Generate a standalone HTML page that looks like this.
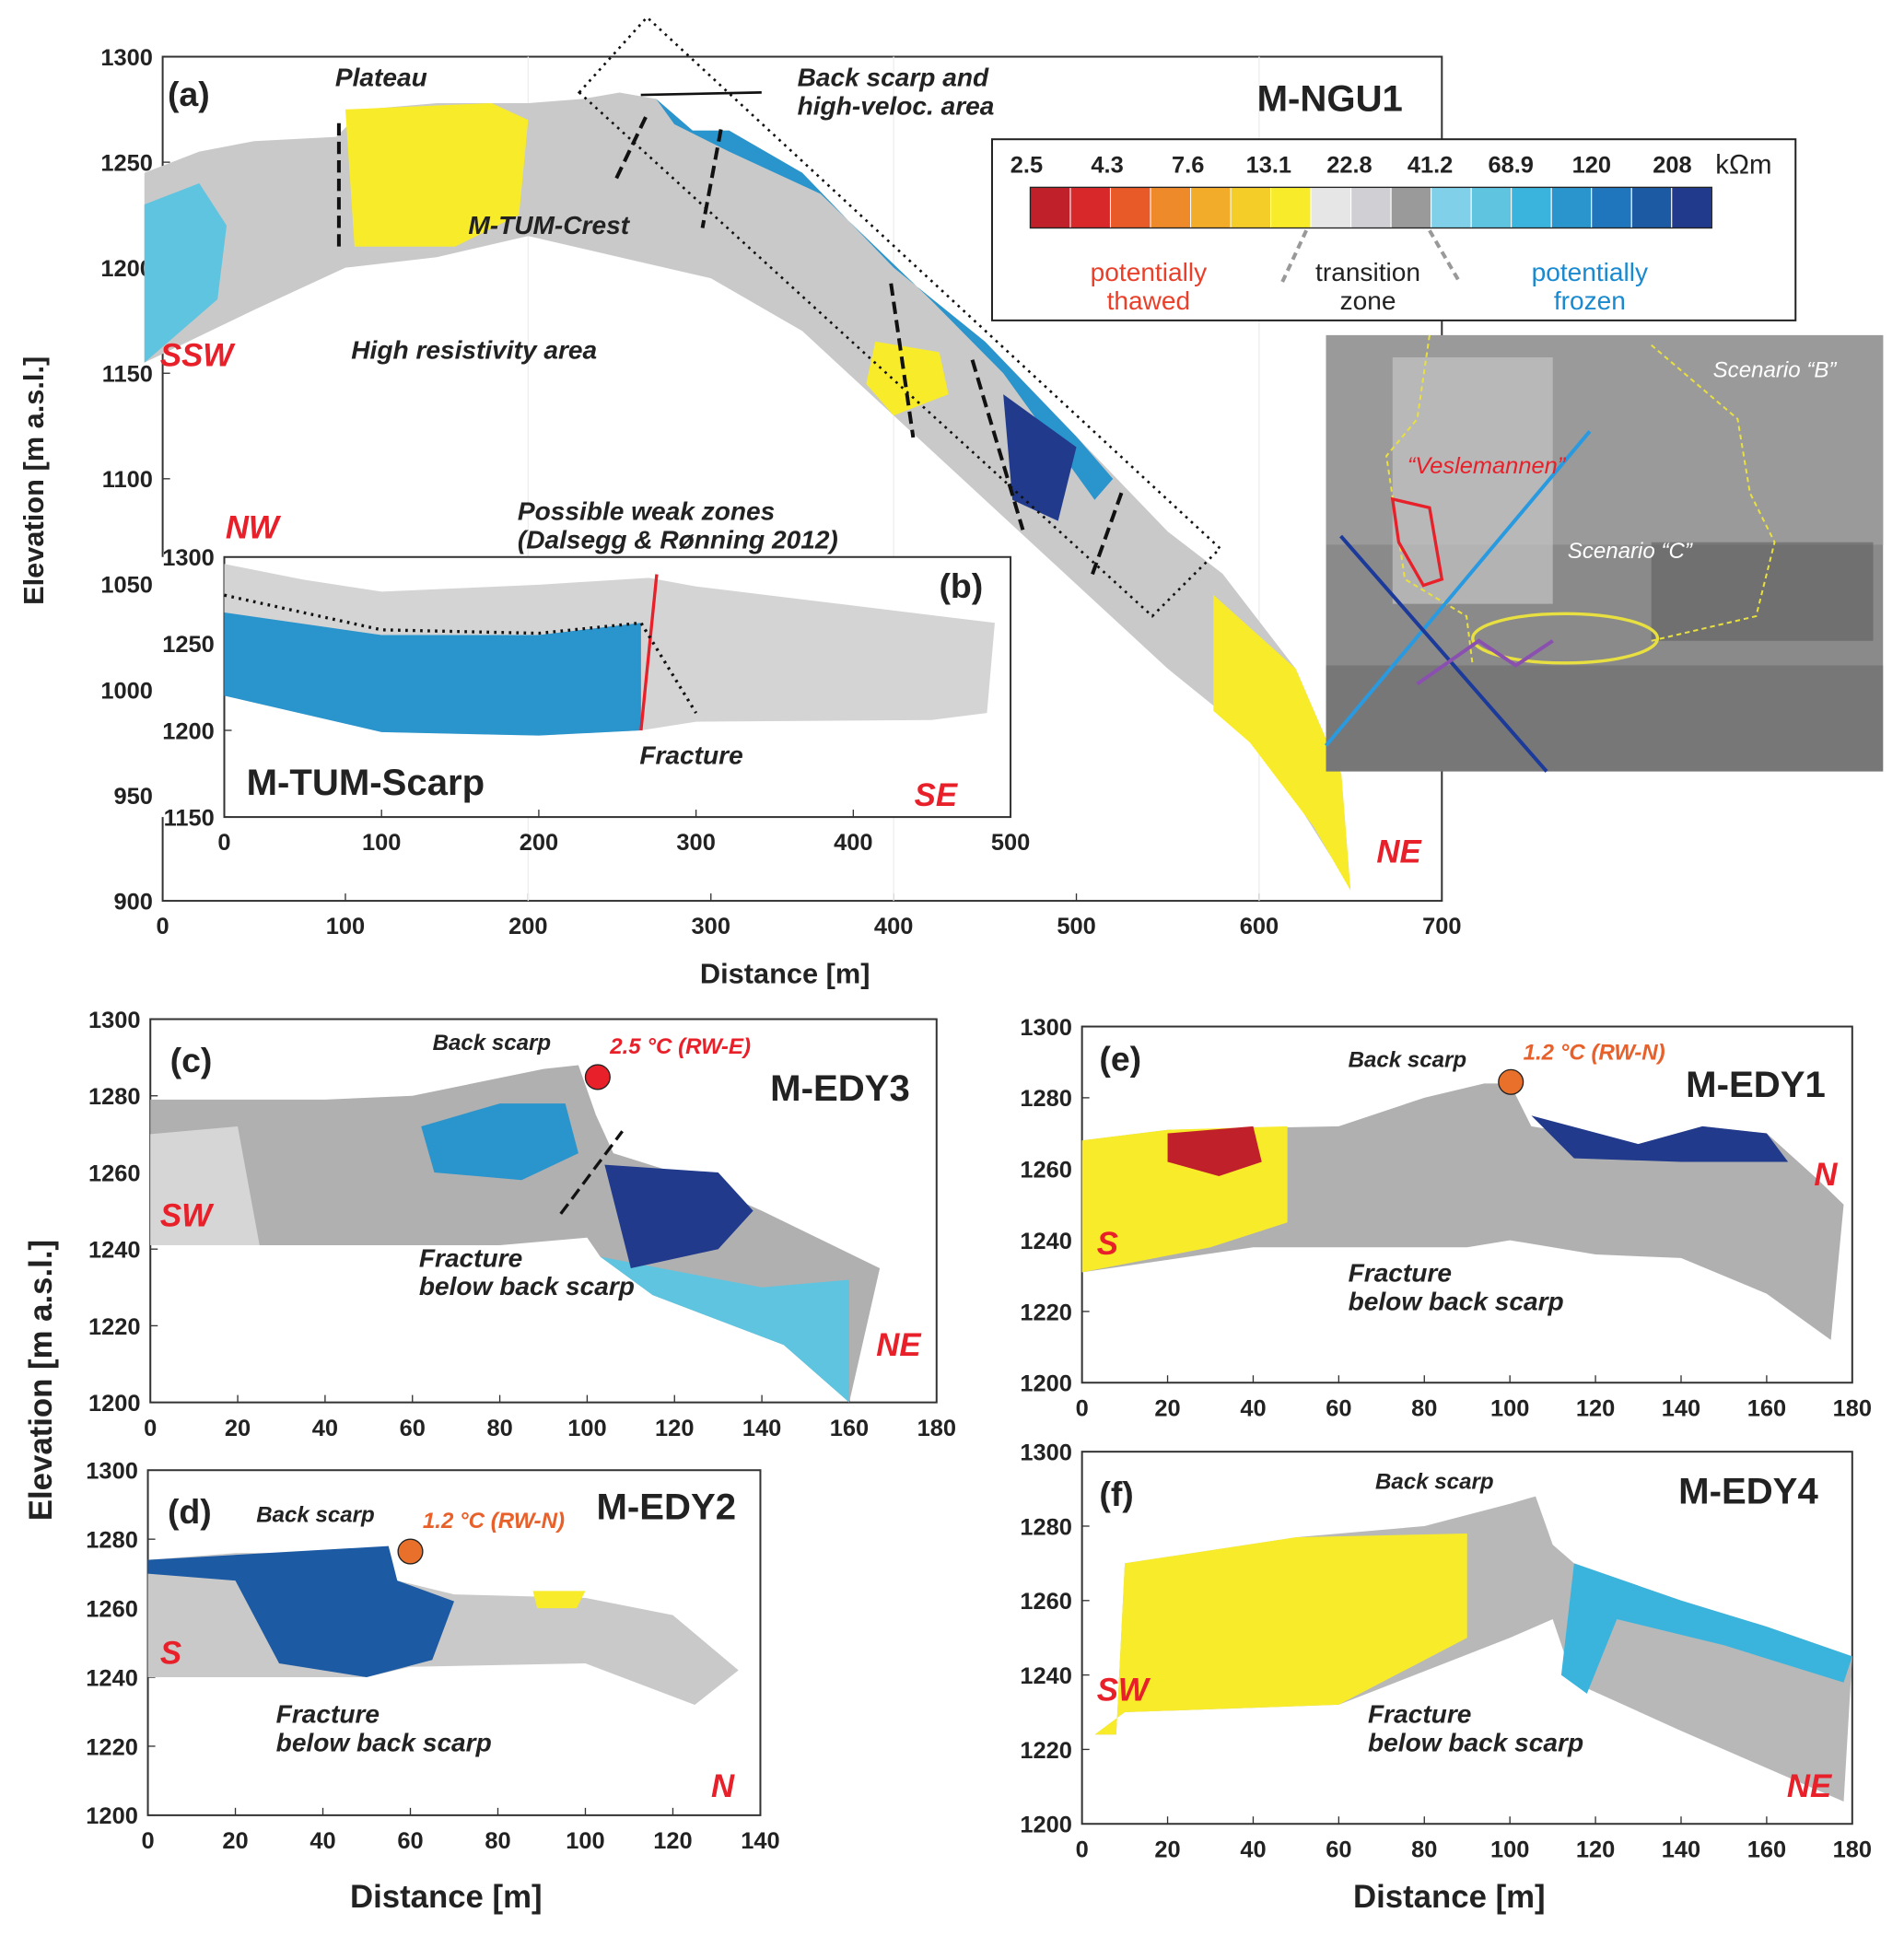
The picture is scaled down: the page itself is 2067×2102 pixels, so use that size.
<!DOCTYPE html>
<html><head><meta charset="utf-8">
<style>
html,body{margin:0;padding:0;background:#fff;}
svg{display:block;font-family:"Liberation Sans",Arial,sans-serif;}
.tk{font-size:19px;font-weight:bold;fill:#222;}
.lab{font-size:22px;font-weight:bold;fill:#222;}
.ann{font-size:21px;font-weight:bold;font-style:italic;fill:#222;}
.red{fill:#e8202a;font-weight:bold;font-style:italic;}
</style></head>
<body>
<svg id="fig" width="2067" height="2102" viewBox="0 0 1545 1571" preserveAspectRatio="none" xmlns="http://www.w3.org/2000/svg">
<g id="root"></g>
</svg>
<script>
const NS="http://www.w3.org/2000/svg";
const root=document.getElementById('root');
function el(tag,attrs,parent,txt){const e=document.createElementNS(NS,tag);for(const k in attrs)e.setAttribute(k,attrs[k]);if(txt!==undefined)e.textContent=txt;(parent||root).appendChild(e);return e;}

// ---------- data ----------
const resLabels=["2.5","4.3","7.6","13.1","22.8","41.2","68.9","120","208"];
const resColors=["#c0202a","#d8282a","#e85a28","#ef8a2a","#f3ab2a","#f5cd28","#f8ec2a","#e6e6e6","#d0d0d4","#9a9a9a","#7fd0e8","#5ec4e0","#3ab4dc","#2a94cc","#2076bc","#1c5aa4","#213a8c"];
const aXTicks=[0,100,200,300,400,500,600,700];
const aYTicks=[900,950,1000,1050,1100,1150,1200,1250,1300];
const bXTicks=[0,100,200,300,400,500];
const bYTicks=[1150,1200,1250,1300];
const cXTicks=[0,20,40,60,80,100,120,140,160,180];
const dXTicks=[0,20,40,60,80,100,120,140];
const cYTicks=[1200,1220,1240,1260,1280,1300];
// profile outlines [distance, elevation]
const aProfile=[[-10,1155],[-10,1245],[20,1255],[50,1260],[95,1262],[110,1275],[150,1278],[200,1278],[230,1280],[250,1283],[270,1280],[290,1265],[310,1265],[350,1245],[400,1200],[450,1165],[500,1120],[550,1075],[580,1055],[620,1010],[645,960],[650,905],[640,920],[600,975],[550,1010],[500,1050],[450,1090],[400,1130],[350,1170],[300,1195],[250,1205],[200,1215],[150,1205],[100,1200],[50,1180]];
const aYellow=[[100,1275],[180,1278],[200,1270],[195,1225],[160,1210],[105,1210]];
const aYellow2=[[390,1165],[425,1160],[430,1140],[400,1130],[385,1145]];
const aYellow3=[[575,1045],[620,1010],[645,960],[650,905],[630,935],[595,975],[575,990]];
const aLightBlue=[[-10,1155],[-10,1230],[20,1240],[35,1220],[30,1185]];
const aBlueBand=[[270,1280],[290,1265],[310,1265],[350,1245],[400,1200],[450,1165],[500,1120],[520,1100],[510,1090],[460,1150],[420,1185],[360,1235],[310,1255],[280,1268]];
const aBlueBlob=[[460,1140],[500,1115],[490,1080],[465,1090]];
const bProfile=[[0,1296],[50,1287],[100,1280],[150,1282],[200,1284],[270,1288],[300,1283],[400,1272],[490,1262],[485,1210],[450,1206],[300,1205],[265,1200],[200,1197],[100,1199],[0,1220]];
const bBlue=[[0,1268],[100,1255],[200,1255],[265,1262],[265,1200],[200,1197],[100,1199],[0,1220]];
const cProfile=[[0,1279],[40,1279],[60,1280],[90,1287],[98,1288],[102,1275],[106,1265],[120,1260],[140,1250],[167,1235],[160,1200],[145,1215],[115,1228],[103,1238],[100,1243],[80,1241],[0,1241]];
const cLeftLight=[[0,1270],[20,1272],[25,1241],[0,1241]];
const cDark=[[104,1262],[130,1260],[138,1250],[130,1240],[110,1235]];
const cLight=[[103,1238],[140,1230],[160,1232],[160,1200],[145,1215],[115,1228]];
const cBlue=[[62,1272],[80,1278],[95,1278],[98,1265],[85,1258],[65,1260]];
const dProfile=[[0,1274],[20,1276],[40,1276],[55,1278],[57,1268],[70,1264],[100,1263],[120,1258],[135,1242],[125,1232],[100,1244],[60,1243],[50,1240],[0,1240]];
const dBlue=[[0,1274],[55,1278],[57,1268],[70,1262],[65,1245],[50,1240],[30,1244],[20,1268],[0,1270]];
const dYellow=[[88,1265],[100,1265],[98,1260],[89,1260]];
const eProfile=[[0,1268],[20,1271],[60,1272],[80,1280],[94,1284],[100,1284],[105,1272],[115,1270],[130,1267],[145,1272],[160,1270],[172,1257],[178,1250],[175,1212],[160,1225],[140,1235],[120,1236],[100,1240],[90,1238],[40,1238],[0,1231]];
const eYellow=[[0,1268],[20,1271],[48,1272],[48,1245],[30,1238],[0,1231]];
const eRed=[[20,1270],[40,1272],[42,1262],[32,1258],[20,1262]];
const eBlue=[[105,1275],[130,1267],[145,1272],[160,1270],[165,1262],[140,1262],[115,1263]];
const fProfile=[[10,1270],[50,1277],[80,1280],[100,1286],[106,1288],[110,1275],[115,1270],[140,1260],[160,1253],[180,1245],[178,1206],[160,1215],[140,1225],[115,1238],[110,1255],[100,1250],[60,1232],[10,1230],[3,1224],[8,1224]];
const fYellow=[[10,1270],[50,1277],[90,1278],[90,1250],[60,1232],[10,1230],[3,1224],[8,1224]];
const fBlue=[[115,1270],[140,1260],[160,1253],[180,1245],[178,1238],[150,1248],[125,1255],[118,1235],[112,1240]];

// ---------- helpers ----------
function scale(d0,d1,p0,p1){return v=>p0+(v-d0)*(p1-p0)/(d1-d0);}
function poly(pts,X,Y,fill,name,extra){const p=el('polygon',Object.assign({points:pts.map(q=>X(q[0])+','+Y(q[1])).join(' '),fill:fill},extra||{}));return p;}
function axes(name,x0,x1,y0,y1,xd,yd,xt,yt){
 const X=scale(xd[0],xd[1],x0,x1),Y=scale(yd[0],yd[1],y0,y1);
 const f=el('rect',{x:x0,y:y1,width:x1-x0,height:y0-y1,fill:'none',stroke:'#333','stroke-width':1.5});
 
 xt.forEach(v=>{const t=el('text',{x:X(v),y:y0+27,'text-anchor':'middle',class:'tk'},null,String(v));
  el('line',{x1:X(v),x2:X(v),y1:y0,y2:y0-6,stroke:'#333'});});
 yt.forEach(v=>{const t=el('text',{x:x0-8,y:Y(v)+7,'text-anchor':'end',class:'tk'},null,String(v));
  el('line',{x1:x0,x2:x0+6,y1:Y(v),y2:Y(v),stroke:'#333'});});
 return [X,Y];
}
function txt(x,y,s,cls,name,extra){const t=el('text',Object.assign({x:x,y:y,class:cls},extra||{}),null,s);return t;}

// ---------- panel a ----------
let [X,Y]=axes('panel-a',132,1170,731,46,[0,700],[900,1300],aXTicks,aYTicks);
[200,400,600].forEach(v=>el('line',{x1:X(v),x2:X(v),y1:46,y2:731,stroke:'#eee'}));
poly(aProfile,X,Y,'#c9c9c9','profile-a');
poly(aLightBlue,X,Y,'#5ec4e0','light-blue-zone-a');
poly(aYellow,X,Y,'#f8ec2a','yellow-zone-plateau');
poly(aYellow2,X,Y,'#f8ec2a','yellow-zone-slope');
poly(aYellow3,X,Y,'#f8ec2a','yellow-zone-toe');
poly(aBlueBand,X,Y,'#2a94cc','blue-band-a');
poly(aBlueBlob,X,Y,'#213a8c','blue-blob-a');
el('polygon',{points:'470,75 525,14 990,445 935,500',fill:'none',stroke:'#111','stroke-width':2,'stroke-dasharray':'2,4'});
el('line',{x1:520,y1:77,x2:618,y2:75,stroke:'#111','stroke-width':2});
txt(136,86,'(a)','lab','panel-a-label',{style:'font-size:28px'});
txt(1020,90,'M-NGU1','lab','profile-name-a',{style:'font-size:30px'});
txt(272,70,'Plateau','ann','plateau-label');
txt(647,70,'Back scarp and','ann','back-scarp-label');
txt(647,93,'high-veloc. area','ann','back-scarp-label-2');
txt(380,190,'M-TUM-Crest','ann','crest-label');
txt(285,291,'High resistivity area','ann','high-res-label');
txt(420,422,'Possible weak zones','ann','weak-zones-label');
txt(420,445,'(Dalsegg & Rønning 2012)','ann','weak-zones-label-2');
txt(130,297,'SSW','red','ssw-label',{style:'font-size:26px'});
txt(1117,700,'NE','red','ne-label-a',{style:'font-size:26px'});
txt(568,798,'Distance [m]','lab','x-axis-title-a',{style:'font-size:23px'});
txt(35,390,'Elevation [m a.s.l.]','lab','y-axis-title-a',{transform:'rotate(-90 35 390)','text-anchor':'middle',style:'font-size:23px'});
[[275,100,275,205],[524,95,500,145],[585,105,570,185],[723,230,741,355],[789,292,830,430],[910,400,885,470]].forEach(l=>el('line',{x1:l[0],y1:l[1],x2:l[2],y2:l[3],stroke:'#111','stroke-width':3,'stroke-dasharray':'10,5'}));

// colour bar
const cb=el('rect',{x:805,y:113,width:652,height:147,fill:'#fff',stroke:'#222','stroke-width':1.5});
const cw=553/resColors.length;
resColors.forEach((c,i)=>{const r=el('rect',{x:836+i*cw,y:152,width:cw,height:33,fill:c,stroke:'#fff','stroke-width':0.8});});
el('rect',{x:836,y:152,width:553,height:33,fill:'none',stroke:'#222'});
resLabels.forEach((s,i)=>txt(833+i*65.5,140,s,'tk','colorbar-tick',{'text-anchor':'middle'}));
txt(1392,141,'kΩm','tk','colorbar-unit',{style:'font-size:22px;font-weight:normal'});
txt(932,228,'potentially','tk','thawed-label',{'text-anchor':'middle',style:'fill:#e8402a;font-weight:normal;font-size:21px'});
txt(932,251,'thawed','tk','thawed-label-2',{'text-anchor':'middle',style:'fill:#e8402a;font-weight:normal;font-size:21px'});
txt(1110,228,'transition','tk','transition-label',{'text-anchor':'middle',style:'font-weight:normal;font-size:21px'});
txt(1110,251,'zone','tk','transition-label-2',{'text-anchor':'middle',style:'font-weight:normal;font-size:21px'});
txt(1290,228,'potentially','tk','frozen-label',{'text-anchor':'middle',style:'fill:#1a8ad0;font-weight:normal;font-size:21px'});
txt(1290,251,'frozen','tk','frozen-label-2',{'text-anchor':'middle',style:'fill:#1a8ad0;font-weight:normal;font-size:21px'});
el('line',{x1:1060,y1:187,x2:1040,y2:230,stroke:'#999','stroke-width':3,'stroke-dasharray':'6,4'});
el('line',{x1:1160,y1:187,x2:1185,y2:230,stroke:'#999','stroke-width':3,'stroke-dasharray':'6,4'});

// map
const m=el('rect',{x:1076,y:272,width:452,height:354,fill:'#8a8a8a'});
el('rect',{x:1076,y:272,width:452,height:170,fill:'#9a9a9a'});
el('rect',{x:1130,y:290,width:130,height:200,fill:'#c4c4c4',opacity:0.7});
el('rect',{x:1340,y:440,width:180,height:80,fill:'#555',opacity:0.5});
el('rect',{x:1076,y:540,width:452,height:86,fill:'#6a6a6a',opacity:0.6});
el('polyline',{points:'1160,272 1150,340 1125,370 1140,470 1190,500 1195,540',fill:'none',stroke:'#e8e040','stroke-width':1.5,'stroke-dasharray':'4,3'});
el('polyline',{points:'1340,280 1410,340 1420,400 1440,440 1425,500 1340,520',fill:'none',stroke:'#e8e040','stroke-width':1.5,'stroke-dasharray':'4,3'});
el('polygon',{points:'1130,405 1160,412 1170,470 1155,475 1135,440',fill:'none',stroke:'#e8202a','stroke-width':2.5});
el('ellipse',{cx:1270,cy:518,rx:75,ry:20,fill:'none',stroke:'#e8e040','stroke-width':2.5});
el('line',{x1:1076,y1:605,x2:1290,y2:350,stroke:'#2a9ae0','stroke-width':3});
el('line',{x1:1088,y1:435,x2:1255,y2:626,stroke:'#1c3a9a','stroke-width':3});
el('polyline',{points:'1150,555 1200,520 1230,540 1260,520',fill:'none',stroke:'#8a50b0','stroke-width':3});
txt(1142,384,'“Veslemannen”','tk','veslemannen-label',{style:'fill:#e8202a;font-style:italic;font-weight:normal;font-size:19px'});
txt(1390,306,'Scenario “B”','tk','scenario-b-label',{style:'fill:#fff;font-style:italic;font-weight:normal;font-size:18px'});
txt(1272,453,'Scenario “C”','tk','scenario-c-label',{style:'fill:#fff;font-style:italic;font-weight:normal;font-size:18px'});

// ---------- panel b ----------
const bb=el('rect',{x:126,y:452,width:694,height:211,fill:'#fff'});
[X,Y]=axes('panel-b',182,820,663,452,[0,500],[1150,1300],bXTicks,bYTicks);
poly(bProfile,X,Y,'#d4d4d4','profile-b');
poly(bBlue,X,Y,'#2a94cc','blue-zone-b');
el('line',{x1:X(265),y1:Y(1200),x2:X(275),y2:Y(1290),stroke:'#e8202a','stroke-width':2.5});
el('polyline',{points:[[0,1278],[100,1258],[200,1256],[265,1262],[300,1210]].map(q=>X(q[0])+','+Y(q[1])).join(' '),fill:'none',stroke:'#111','stroke-width':2.5,'stroke-dasharray':'2,4'});
txt(183,437,'NW','red','nw-label',{style:'font-size:26px'});
txt(762,485,'(b)','lab','panel-b-label',{style:'font-size:28px'});
txt(200,645,'M-TUM-Scarp','lab','profile-name-b',{style:'font-size:30px'});
txt(519,620,'Fracture','ann','fracture-label-b');
txt(742,654,'SE','red','se-label',{style:'font-size:26px'});

// ---------- panel c ----------
[X,Y]=axes('panel-c',122,760,1138,827,[0,180],[1200,1300],cXTicks,cYTicks);
poly(cProfile,X,Y,'#b0b0b0','profile-c');
poly(cLeftLight,X,Y,'#d6d6d6','light-gray-zone-c');
poly(cLight,X,Y,'#5ec4e0','light-blue-zone-c');
poly(cBlue,X,Y,'#2a94cc','blue-zone-c');
poly(cDark,X,Y,'#213a8c','dark-blue-zone-c');
txt(138,870,'(c)','lab','panel-c-label',{style:'font-size:28px'});
txt(625,893,'M-EDY3','lab','profile-name-c',{style:'font-size:30px'});
txt(351,852,'Back scarp','ann','back-scarp-c',{style:'font-size:18px'});
txt(495,855,'2.5 °C (RW-E)','ann','temp-c',{style:'fill:#e8202a;font-size:18px'});
el('circle',{cx:485,cy:874,r:10,fill:'#e8202a',stroke:'#222'});
txt(340,1028,'Fracture','ann','fracture-c');
txt(340,1051,'below back scarp','ann','fracture-c-2');
txt(130,995,'SW','red','sw-label-c',{style:'font-size:26px'});
txt(711,1100,'NE','red','ne-label-c',{style:'font-size:26px'});
el('line',{x1:455,y1:985,x2:505,y2:918,stroke:'#111','stroke-width':2.5,'stroke-dasharray':'10,5'});

// ---------- panel d ----------
[X,Y]=axes('panel-d',120,617,1473,1193,[0,140],[1200,1300],dXTicks,cYTicks);
poly(dProfile,X,Y,'#c9c9c9','profile-d');
poly(dBlue,X,Y,'#1c5aa4','blue-zone-d');
poly(dYellow,X,Y,'#f8ec2a','yellow-zone-d');
txt(136,1236,'(d)','lab','panel-d-label',{style:'font-size:28px'});
txt(484,1233,'M-EDY2','lab','profile-name-d',{style:'font-size:30px'});
txt(208,1235,'Back scarp','ann','back-scarp-d',{style:'font-size:18px'});
txt(343,1240,'1.2 °C (RW-N)','ann','temp-d',{style:'fill:#e8602a;font-size:18px'});
el('circle',{cx:333,cy:1259,r:10,fill:'#e8702a',stroke:'#222'});
txt(224,1398,'Fracture','ann','fracture-d');
txt(224,1421,'below back scarp','ann','fracture-d-2');
txt(130,1350,'S','red','s-label-d',{style:'font-size:26px'});
txt(577,1458,'N','red','n-label-d',{style:'font-size:26px'});
txt(362,1548,'Distance [m]','lab','x-axis-title-d',{'text-anchor':'middle',style:'font-size:26px'});
txt(42,1120,'Elevation [m a.s.l.]','lab','y-axis-title-cd',{transform:'rotate(-90 42 1120)','text-anchor':'middle',style:'font-size:26px'});

// ---------- panel e ----------
[X,Y]=axes('panel-e',878,1503,1122,833,[0,180],[1200,1300],cXTicks,cYTicks);
poly(eProfile,X,Y,'#b0b0b0','profile-e');
poly(eYellow,X,Y,'#f8ec2a','yellow-zone-e');
poly(eRed,X,Y,'#c0202a','red-zone-e');
poly(eBlue,X,Y,'#213a8c','blue-zone-e');
txt(892,869,'(e)','lab','panel-e-label',{style:'font-size:28px'});
txt(1368,890,'M-EDY1','lab','profile-name-e',{style:'font-size:30px'});
txt(1094,866,'Back scarp','ann','back-scarp-e',{style:'font-size:18px'});
txt(1236,860,'1.2 °C (RW-N)','ann','temp-e',{style:'fill:#e8602a;font-size:18px'});
el('circle',{cx:1226,cy:878,r:10,fill:'#e8702a',stroke:'#222'});
txt(1094,1040,'Fracture','ann','fracture-e');
txt(1094,1063,'below back scarp','ann','fracture-e-2');
txt(890,1018,'S','red','s-label-e',{style:'font-size:26px'});
txt(1472,962,'N','red','n-label-e',{style:'font-size:26px'});

// ---------- panel f ----------
[X,Y]=axes('panel-f',878,1503,1480,1178,[0,180],[1200,1300],cXTicks,cYTicks);
poly(fProfile,X,Y,'#b8b8b8','profile-f');
poly(fYellow,X,Y,'#f8ec2a','yellow-zone-f');
poly(fBlue,X,Y,'#3ab4dc','blue-zone-f');
txt(892,1222,'(f)','lab','panel-f-label',{style:'font-size:28px'});
txt(1362,1220,'M-EDY4','lab','profile-name-f',{style:'font-size:30px'});
txt(1116,1208,'Back scarp','ann','back-scarp-f',{style:'font-size:18px'});
txt(1110,1398,'Fracture','ann','fracture-f');
txt(1110,1421,'below back scarp','ann','fracture-f-2');
txt(890,1380,'SW','red','sw-label-f',{style:'font-size:26px'});
txt(1450,1458,'NE','red','ne-label-f',{style:'font-size:26px'});
txt(1176,1548,'Distance [m]','lab','x-axis-title-f',{'text-anchor':'middle',style:'font-size:26px'});
</script>
</body></html>
